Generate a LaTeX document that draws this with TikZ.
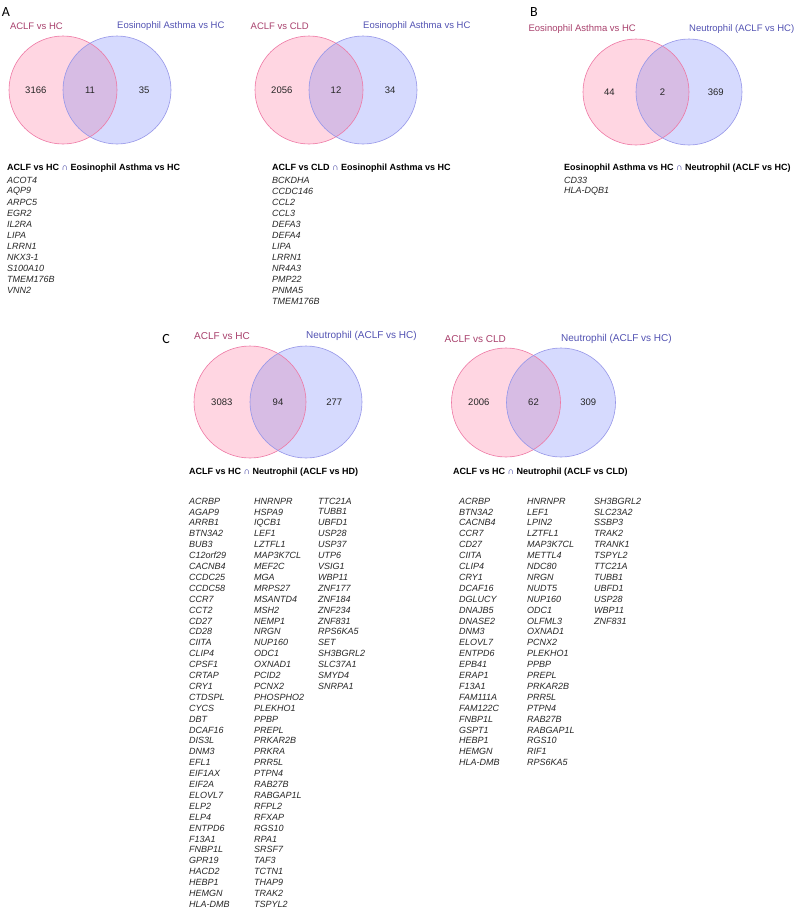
\documentclass[tikz,border=0pt]{standalone}
\usepackage{fontspec}
\setmainfont{Liberation Sans}
\newfontfamily\panelfont{Carlito}
\usetikzlibrary{positioning,calc}
\definecolor{setpink}{RGB}{255,214,226}
\definecolor{setblue}{RGB}{214,218,254}
\definecolor{setboth}{RGB}{215,188,228}
\definecolor{linepink}{RGB}{238,120,164}
\definecolor{lineblue}{RGB}{150,150,232}
\definecolor{txtpink}{RGB}{168,64,108}
\definecolor{txtblue}{RGB}{82,82,178}
\definecolor{capblue}{RGB}{40,40,150}
\newcommand{\capsym}{\textcolor{capblue}{∩}}
\begin{document}
\begin{tikzpicture}[
    x=1pt, y=-1pt,
    pinkset/.style={circle, fill=setpink, inner sep=0pt, minimum size=#1},
    blueset/.style={circle, fill=setblue, inner sep=0pt, minimum size=#1},
    pinkline/.style={draw=linepink, line width=0.6pt},
    blueline/.style={draw=lineblue, line width=0.6pt},
    setlabel/.style={inner sep=0pt, font=\fontsize{9.5}{11}\selectfont},
    count/.style={inner sep=0pt, text=black!85, font=\fontsize{9.5}{11}\selectfont},
    head/.style={anchor=west, inner sep=0pt, font=\fontsize{9}{11}\selectfont\bfseries},
    gene/.style={anchor=west, inner sep=0pt, text=black!85, font=\fontsize{9}{11}\selectfont\itshape},
    panel/.style={inner sep=0pt, font=\panelfont\fontsize{14}{14}\selectfont}
]
\useasboundingbox (0,0) rectangle (794,911);

% panel letters
\node[panel] (pA) at (6,12) {A};
\node[panel] (pB) at (534,12) {B};
\node[panel] (pC) at (166,339) {C};

% A, left: ACLF vs HC / Eosinophil Asthma vs HC
\node[pinkset=108pt] (a1l) at (63,90) {};
\node[blueset=108pt] (a1r) at (117,90) {};
\begin{scope}
  \clip (a1l.center) circle[radius=54pt];
  \fill[setboth] (a1r.center) circle[radius=54pt];
\end{scope}
\draw[pinkline] (a1l.center) circle[radius=54pt];
\draw[blueline] (a1r.center) circle[radius=54pt];
\node[setlabel, text=txtpink, above=10pt of a1l.north, anchor=east] (a1lt) {ACLF vs HC};
\node[setlabel, text=txtblue, above=10pt of a1r.north, anchor=west] (a1rt) {Eosinophil Asthma vs HC};
\node[count] (a1n1) at ($(a1l.west)!0.5!(a1r.west)$) {3166};
\node[count] (a1n2) at ($(a1r.west)!0.5!(a1l.east)$) {11};
\node[count] (a1n3) at ($(a1l.east)!0.5!(a1r.east)$) {35};

% A, right: ACLF vs CLD / Eosinophil Asthma vs HC
\node[pinkset=108pt] (a2l) at (309,90) {};
\node[blueset=108pt] (a2r) at (363,90) {};
\begin{scope}
  \clip (a2l.center) circle[radius=54pt];
  \fill[setboth] (a2r.center) circle[radius=54pt];
\end{scope}
\draw[pinkline] (a2l.center) circle[radius=54pt];
\draw[blueline] (a2r.center) circle[radius=54pt];
\node[setlabel, text=txtpink, above=10pt of a2l.north, anchor=east] (a2lt) {ACLF vs CLD};
\node[setlabel, text=txtblue, above=10pt of a2r.north, anchor=west] (a2rt) {Eosinophil Asthma vs HC};
\node[count] (a2n1) at ($(a2l.west)!0.5!(a2r.west)$) {2056};
\node[count] (a2n2) at ($(a2r.west)!0.5!(a2l.east)$) {12};
\node[count] (a2n3) at ($(a2l.east)!0.5!(a2r.east)$) {34};

% B: Eosinophil Asthma vs HC / Neutrophil (ACLF vs HC)
\node[pinkset=106pt] (bl) at (636,92) {};
\node[blueset=106pt] (br) at (689,92) {};
\begin{scope}
  \clip (bl.center) circle[radius=53pt];
  \fill[setboth] (br.center) circle[radius=53pt];
\end{scope}
\draw[pinkline] (bl.center) circle[radius=53pt];
\draw[blueline] (br.center) circle[radius=53pt];
\node[setlabel, text=txtpink, above=10pt of bl.north, anchor=east] (blt) {Eosinophil Asthma vs HC};
\node[setlabel, text=txtblue, above=10pt of br.north, anchor=west] (brt) {Neutrophil (ACLF vs HC)};
\node[count] (bn1) at ($(bl.west)!0.5!(br.west)$) {44};
\node[count] (bn2) at ($(br.west)!0.5!(bl.east)$) {2};
\node[count] (bn3) at ($(bl.east)!0.5!(br.east)$) {369};

% C, left: ACLF vs HC / Neutrophil (ACLF vs HC)
\node[pinkset=112pt] (c1l) at (250,402) {};
\node[blueset=112pt] (c1r) at (306,402) {};
\begin{scope}
  \clip (c1l.center) circle[radius=56pt];
  \fill[setboth] (c1r.center) circle[radius=56pt];
\end{scope}
\draw[pinkline] (c1l.center) circle[radius=56pt];
\draw[blueline] (c1r.center) circle[radius=56pt];
\node[setlabel, text=txtpink, font=\fontsize{10}{12}\selectfont, above=10pt of c1l.north, anchor=east] (c1lt) {ACLF vs HC};
\node[setlabel, text=txtblue, font=\fontsize{10}{12}\selectfont, above=10pt of c1r.north, anchor=west] (c1rt) {Neutrophil (ACLF vs HC)};
\node[count] (c1n1) at ($(c1l.west)!0.5!(c1r.west)$) {3083};
\node[count] (c1n2) at ($(c1r.west)!0.5!(c1l.east)$) {94};
\node[count] (c1n3) at ($(c1l.east)!0.5!(c1r.east)$) {277};

% C, right: ACLF vs CLD / Neutrophil (ACLF vs HC)
\node[pinkset=109pt] (c2l) at (506,402.5) {};
\node[blueset=109pt] (c2r) at (561,402.5) {};
\begin{scope}
  \clip (c2l.center) circle[radius=54.5pt];
  \fill[setboth] (c2r.center) circle[radius=54.5pt];
\end{scope}
\draw[pinkline] (c2l.center) circle[radius=54.5pt];
\draw[blueline] (c2r.center) circle[radius=54.5pt];
\node[setlabel, text=txtpink, font=\fontsize{10}{12}\selectfont, above=9pt of c2l.north, anchor=east] (c2lt) {ACLF vs CLD};
\node[setlabel, text=txtblue, font=\fontsize{10}{12}\selectfont, above=9pt of c2r.north, anchor=west] (c2rt) {Neutrophil (ACLF vs HC)};
\node[count] (c2n1) at ($(c2l.west)!0.5!(c2r.west)$) {2006};
\node[count] (c2n2) at ($(c2r.west)!0.5!(c2l.east)$) {62};
\node[count] (c2n3) at ($(c2l.east)!0.5!(c2r.east)$) {309};

% gene lists
\node[head] (a1h) at (7,168.5) {ACLF vs HC \capsym{} Eosinophil Asthma vs HC};
\foreach \g [count=\i from 0] in {ACOT4, AQP9, ARPC5, EGR2, IL2RA, LIPA, LRRN1, NKX3-1, S100A10, TMEM176B, VNN2}
  \node[gene] (a1g\i) at (7,180+11*\i) {\g};

\node[head] (a2h) at (272,168.5) {ACLF vs CLD \capsym{} Eosinophil Asthma vs HC};
\foreach \g [count=\i from 0] in {BCKDHA, CCDC146, CCL2, CCL3, DEFA3, DEFA4, LIPA, LRRN1, NR4A3, PMP22, PNMA5, TMEM176B}
  \node[gene] (a2g\i) at (272,180+11*\i) {\g};

\node[head] (bh) at (564,168.5) {Eosinophil Asthma vs HC \capsym{} Neutrophil (ACLF vs HC)};
\foreach \g [count=\i from 0] in {CD33, HLA-DQB1}
  \node[gene] (bg\i) at (564,180+11*\i) {\g};

\node[head] (c1h) at (189,472) {ACLF vs HC \capsym{} Neutrophil (ACLF vs HD)};
\foreach \g [count=\i from 0] in {ACRBP, AGAP9, ARRB1, BTN3A2, BUB3, C12orf29, CACNB4, CCDC25, CCDC58, CCR7, CCT2, CD27, CD28, CIITA, CLIP4, CPSF1, CRTAP, CRY1, CTDSPL, CYCS, DBT, DCAF16, DIS3L, DNM3, EFL1, EIF1AX, EIF2A, ELOVL7, ELP2, ELP4, ENTPD6, F13A1, FNBP1L, GPR19, HACD2, HEBP1, HEMGN, HLA-DMB}
  \node[gene] (c1a\i) at (189,501+10.9*\i) {\g};
\foreach \g [count=\i from 0] in {HNRNPR, HSPA9, IQCB1, LEF1, LZTFL1, MAP3K7CL, MEF2C, MGA, MRPS27, MSANTD4, MSH2, NEMP1, NRGN, NUP160, ODC1, OXNAD1, PCID2, PCNX2, PHOSPHO2, PLEKHO1, PPBP, PREPL, PRKAR2B, PRKRA, PRR5L, PTPN4, RAB27B, RABGAP1L, RFPL2, RFXAP, RGS10, RPA1, SRSF7, TAF3, TCTN1, THAP9, TRAK2, TSPYL2}
  \node[gene] (c1b\i) at (254,501+10.9*\i) {\g};
\foreach \g [count=\i from 0] in {TTC21A, TUBB1, UBFD1, USP28, USP37, UTP6, VSIG1, WBP11, ZNF177, ZNF184, ZNF234, ZNF831, RPS6KA5, SET, SH3BGRL2, SLC37A1, SMYD4, SNRPA1}
  \node[gene] (c1c\i) at (318,501+10.9*\i) {\g};

\node[head] (c2h) at (453,472) {ACLF vs HC \capsym{} Neutrophil (ACLF vs CLD)};
\foreach \g [count=\i from 0] in {ACRBP, BTN3A2, CACNB4, CCR7, CD27, CIITA, CLIP4, CRY1, DCAF16, DGLUCY, DNAJB5, DNASE2, DNM3, ELOVL7, ENTPD6, EPB41, ERAP1, F13A1, FAM111A, FAM122C, FNBP1L, GSPT1, HEBP1, HEMGN, HLA-DMB}
  \node[gene] (c2a\i) at (459,501+10.9*\i) {\g};
\foreach \g [count=\i from 0] in {HNRNPR, LEF1, LPIN2, LZTFL1, MAP3K7CL, METTL4, NDC80, NRGN, NUDT5, NUP160, ODC1, OLFML3, OXNAD1, PCNX2, PLEKHO1, PPBP, PREPL, PRKAR2B, PRR5L, PTPN4, RAB27B, RABGAP1L, RGS10, RIF1, RPS6KA5}
  \node[gene] (c2b\i) at (527,501+10.9*\i) {\g};
\foreach \g [count=\i from 0] in {SH3BGRL2, SLC23A2, SSBP3, TRAK2, TRANK1, TSPYL2, TTC21A, TUBB1, UBFD1, USP28, WBP11, ZNF831}
  \node[gene] (c2c\i) at (594,501+10.9*\i) {\g};
\end{tikzpicture}
\end{document}
